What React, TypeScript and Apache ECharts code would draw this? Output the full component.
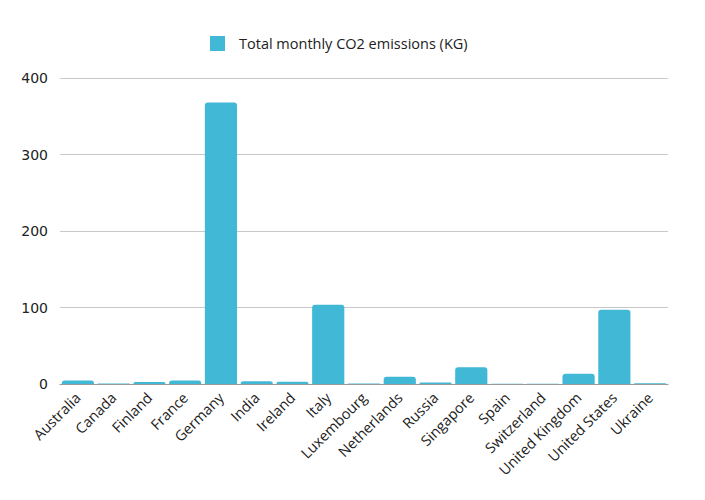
import React, { useEffect, useRef } from "react";
import * as echarts from "echarts";

const categories = [
  "Australia", "Canada", "Finland", "France", "Germany", "India", "Ireland", "Italy",
  "Luxembourg", "Netherlands", "Russia", "Singapore", "Spain", "Switzerland",
  "United Kingdom", "United States", "Ukraine",
];
const emissions = [4.5, 0.6, 2.5, 4.5, 368, 3.5, 2.8, 103.5, 0.6, 9.5, 1.8, 22, 0.4, 0.4, 13.5, 97, 1];
const seriesName = "Total monthly CO2 emissions (KG)";
const yTicks = [0, 100, 200, 300, 400];

const FONT = "'Open Sans', 'DejaVu Sans', sans-serif";

export default function App() {
  const ref = useRef<HTMLDivElement>(null);
  useEffect(() => {
    if (!ref.current) return;
    const chart = echarts.init(ref.current, null, { renderer: "svg" });
    chart.setOption({
      animation: false,
      textStyle: { fontFamily: FONT },
      legend: {
        top: 23,
        left: 197,
        itemWidth: 15,
        itemHeight: 15,
        itemGap: 10,
        icon: "rect",
        textStyle: { fontSize: 14.5, color: "#222", fontFamily: FONT, padding: [0, 0, 0, 9] },
        data: [seriesName],
      },
      grid: { left: 52, right: 45, top: 70, bottom: 124 },
      xAxis: {
        type: "category",
        data: categories,
        axisLine: { lineStyle: { color: "#999", width: 1 } },
        axisTick: { show: false },
        axisLabel: {
          rotate: 45,
          interval: 0,
          fontSize: 14.5,
          color: "#222",
          fontFamily: FONT,
          margin: 11,
        },
      },
      yAxis: {
        type: "value",
        min: yTicks[0],
        max: yTicks[yTicks.length - 1],
        interval: 100,
        axisLine: { show: false },
        axisTick: { show: false },
        splitLine: { lineStyle: { color: "#c8c8c8", width: 1 } },
        axisLabel: { fontSize: 14, color: "#222", fontFamily: "'DejaVu Sans', sans-serif", margin: 12 },
      },
      series: [
        {
          name: seriesName,
          type: "bar",
          data: emissions,
          barCategoryGap: "10%",
          itemStyle: { color: "#41b8d5", borderRadius: [3, 3, 0, 0] },
        },
      ],
    });
    return () => chart.dispose();
  }, []);
  return <div ref={ref} style={{ width: 705, height: 500 }} />;
}
